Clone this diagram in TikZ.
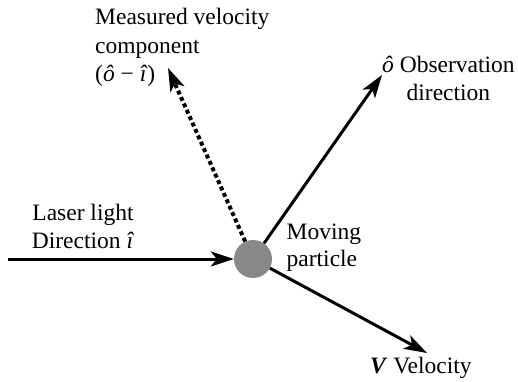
\documentclass[tikz,border=0pt]{standalone}
\usepackage{fontspec}
\setmainfont{Liberation Serif}
\newfontfamily\tnrfont{Liberation Serif}
\usetikzlibrary{arrows.meta}
\definecolor{partgray}{RGB}{136,136,136}
\begin{document}
\begin{tikzpicture}[x=1pt,y=-1pt,
  lbl/.style={font=\tnrfont\fontsize{23.5}{28}\selectfont, inner sep=0pt},
  tip/.style={-{Stealth[length=23pt,width=15pt,inset=6pt]}},
  arr/.style={line width=3pt, tip},
  dotarr/.style={line width=4pt, dash pattern=on 4pt off 3pt, tip},
  particle/.style={circle, fill=partgray, minimum size=38pt, inner sep=0pt}
]
\useasboundingbox (0,0) rectangle (518,381);
\node[particle] (p) at (253,259) {};
\coordinate (laserstart) at (8,259);
\coordinate (dottip) at (168,68);
\coordinate (obstip) at (382,75);
\coordinate (veltip) at (427,353);
\draw[arr] (laserstart) -- (p);
\draw[dotarr] (p) -- (dottip);
\draw[arr] (p) -- (obstip);
\draw[arr] (p) -- (veltip);
\node[lbl, font=\tnrfont\fontsize{23.5}{28.5}\selectfont, anchor=north west, align=left] (meas) at (95,8)
  {Measured velocity\\component\\(\textit{ô} − \textit{î})};
\node[lbl, anchor=north west, align=center] (obs) at (382,56)
  {\textit{ô} Observation\\direction};
\node[lbl, anchor=north, align=center] (laser) at (83,204)
  {Laser light\\Direction \textit{î}};
\node[lbl, font=\tnrfont\fontsize{23.5}{27}\selectfont, anchor=north west, align=left] (mov) at (286.5,224)
  {Moving\\particle};
\node[lbl, anchor=base west] (vel) at (370,373)
  {\textbf{\textit{V}} Velocity};
\end{tikzpicture}
\end{document}
